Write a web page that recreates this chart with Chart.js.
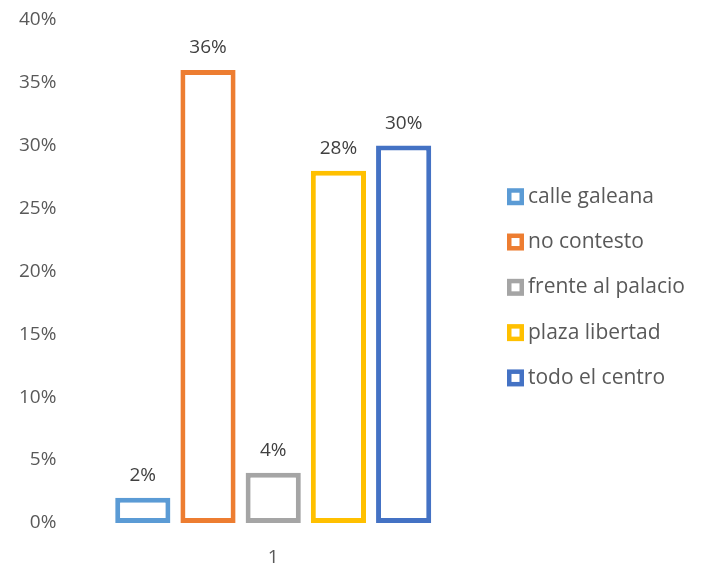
<!DOCTYPE html>
<html>
<head>
<meta charset="utf-8">
<script src="https://cdn.jsdelivr.net/npm/chart.js@4"></script>
<style>
  html, body { margin: 0; padding: 0; background: #fff; }
  #wrap { width: 701px; height: 568px; }
</style>
</head>
<body>
<div id="wrap"><canvas id="chart" width="701" height="568"></canvas></div>
<script>
const categories = ["1"];
const seriesNames = ["calle galeana", "no contesto", "frente al palacio", "plaza libertad", "todo el centro"];
const seriesValues = [2, 36, 4, 28, 30];
const seriesColors = ["#5b9bd5", "#ed7d31", "#a5a5a5", "#ffc000", "#4472c4"];

const FONT = "'Open Sans', Lato, sans-serif";
const FONT_SIZE = 19;
const LEGEND_SIZE = 21;

// percentages above each bar
const valueLabels = {
  id: "valueLabels",
  afterDatasetsDraw(chart) {
    const ctx = chart.ctx;
    ctx.save();
    ctx.font = `${FONT_SIZE}px ${FONT}`;
    ctx.fillStyle = "#404040";
    ctx.textAlign = "center";
    ctx.textBaseline = "middle";
    chart.data.datasets.forEach((ds, i) => {
      chart.getDatasetMeta(i).data.forEach((bar, j) => {
        ctx.fillText(`${ds.data[j]}%`, bar.x, bar.y - 22);
      });
    });
    ctx.restore();
  },
};

// legend drawn by hand to the right of the plot, Excel style
const sideLegend = {
  id: "sideLegend",
  afterDraw(chart) {
    const ctx = chart.ctx;
    const area = chart.chartArea;
    const x = area.right + 30;
    const rowH = 45.3;
    const n = chart.data.datasets.length;
    const y0 = (area.top + area.bottom) / 2 + 16 - ((n - 1) * rowH) / 2;
    ctx.save();
    ctx.font = `${LEGEND_SIZE}px ${FONT}`;
    ctx.textBaseline = "middle";
    ctx.textAlign = "left";
    chart.data.datasets.forEach((ds, i) => {
      const y = y0 + i * rowH;
      ctx.fillStyle = ds.borderColor;
      ctx.fillRect(x, y - 8.5, 17, 17);
      ctx.fillStyle = "#ffffff";
      ctx.fillRect(x + 4.5, y - 4, 8, 8);
      ctx.fillStyle = "#595959";
      ctx.fillText(ds.label, x + 21, y);
    });
    ctx.restore();
  },
};

ready(() => {
  const ctx = document.getElementById("chart").getContext("2d");
  new Chart(ctx, {
    type: "bar",
    data: {
      labels: categories,
      datasets: seriesNames.map((name, i) => ({
        label: name,
        data: [seriesValues[i]],
        backgroundColor: "#ffffff",
        borderColor: seriesColors[i],
        borderWidth: 5,
        borderSkipped: false,
        barPercentage: 0.846,
        categoryPercentage: 0.8,
      })),
    },
    options: {
      responsive: false,
      animation: false,
      layout: { padding: { top: 18, left: 6, right: 224, bottom: -24 } },
      scales: {
        x: {
          grid: { display: false, drawTicks: false },
          border: { display: false },
          ticks: {
            color: "#595959",
            font: { family: FONT, size: FONT_SIZE, lineHeight: 1 },
            padding: 25,
          },
        },
        y: {
          min: 0,
          max: 40,
          grid: { display: false, drawTicks: false },
          border: { display: false },
          ticks: {
            stepSize: 5,
            padding: 13,
            color: "#595959",
            font: { family: FONT, size: FONT_SIZE, lineHeight: 0.7 },
            callback: (v) => `${v}%`,
          },
        },
      },
      plugins: {
        tooltip: { enabled: false },
        legend: { display: false },
      },
    },
    plugins: [valueLabels, sideLegend],
  });
});

function ready(fn) {
  if (document.readyState !== "loading") {
    fn();
  } else {
    document.addEventListener("DOMContentLoaded", fn);
  }
}
</script>
</body>
</html>
